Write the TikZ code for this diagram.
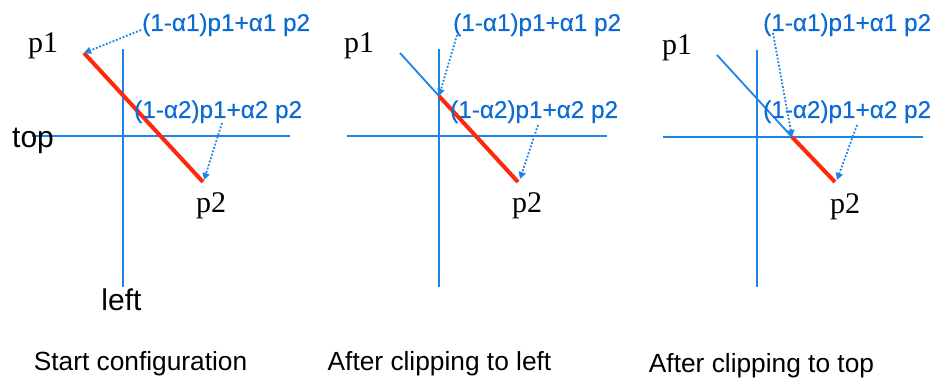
\documentclass[tikz,border=0pt]{standalone}
\usepackage{fontspec}
\setmainfont{Liberation Serif}
\setsansfont{Liberation Sans}
\newfontfamily\lblfont[FakeBold=0.3]{Liberation Sans}
\usetikzlibrary{arrows.meta}
\definecolor{axisblue}{RGB}{30,130,230}
\definecolor{labblue}{RGB}{12,108,212}
\definecolor{segred}{RGB}{255,40,10}
\begin{document}
\begin{tikzpicture}[x=1pt,y=-1pt,
  axis/.style={draw=axisblue,line width=2pt},
  seg/.style={draw=segred,line width=4pt},
  thinseg/.style={draw=axisblue,line width=1.8pt},
  ptr/.style={draw=axisblue,line width=1.8pt,dash pattern=on 1.8pt off 1.8pt,-{Triangle[length=7pt,width=7pt]}},
  ptlab/.style={font=\fontsize{30}{30}\selectfont\rmfamily,inner sep=0pt,anchor=base},
  alab/.style={font=\fontsize{24.3}{25}\lblfont,text=labblue,inner sep=0pt,anchor=base west},
  captext/.style={font=\fontsize{26.3}{28}\selectfont\sffamily,inner sep=0pt,anchor=base},
  axlab/.style={font=\fontsize{30}{30}\selectfont\sffamily,inner sep=0pt,anchor=base}]
\useasboundingbox (0,0) rectangle (936,379);

% ---------- Panel 1 ----------
\coordinate (a1) at (84,53);
\coordinate (b1) at (203,182);
\coordinate (v1t) at (123,49);
\coordinate (v1b) at (123,287);
\coordinate (h1l) at (32,136);
\coordinate (h1r) at (290,136);
\draw[axis] (v1t) -- (v1b);
\draw[axis] (h1l) -- (h1r);
\draw[seg] (a1) -- (b1);
\node[axlab,anchor=base west] (top) at (12,148) {top};
\node[axlab] (left) at (121.5,310) {left};
\node[ptlab] (p1a) at (43,53) {p1};
\node[ptlab] (p2a) at (211,213) {p2};
\node[alab] (l1a) at (142,31) {(1-α1)p1+α1 p2};
\node[alab] (l2a) at (134,118) {(1-α2)p1+α2 p2};
\coordinate (t1a) at (141,30);
\coordinate (t2a) at (222,123);
\coordinate (e2a) at (204,180);
\draw[ptr] (t1a) -- (a1);
\draw[ptr] (t2a) -- (e2a);
\node[captext] (capa) at (140.5,370) {Start configuration};

% ---------- Panel 2 ----------
\coordinate (a2) at (400,53);
\coordinate (c2) at (439,96);
\coordinate (b2) at (518,182);
\coordinate (v2t) at (439,49);
\coordinate (v2b) at (439,287);
\coordinate (h2l) at (347,136);
\coordinate (h2r) at (607,136);
\draw[axis] (v2t) -- (v2b);
\draw[axis] (h2l) -- (h2r);
\draw[thinseg] (a2) -- (c2);
\draw[seg] (c2) -- (b2);
\node[ptlab] (p1b) at (359,53) {p1};
\node[ptlab] (p2b) at (527,213) {p2};
\node[alab] (l1b) at (453,31) {(1-α1)p1+α1 p2};
\node[alab] (l2b) at (450,118) {(1-α2)p1+α2 p2};
\coordinate (t1b) at (457,35);
\coordinate (t2b) at (538,125);
\coordinate (e2b) at (520,179);
\draw[ptr] (t1b) -- (c2);
\draw[ptr] (t2b) -- (e2b);
\node[captext] (capb) at (439.5,370) {After clipping to left};

% ---------- Panel 3 ----------
\coordinate (a3) at (717,55);
\coordinate (c3) at (792,137);
\coordinate (b3) at (835,182);
\coordinate (v3t) at (757,50);
\coordinate (v3b) at (757,287);
\coordinate (h3l) at (663,137);
\coordinate (h3r) at (923,137);
\draw[axis] (v3t) -- (v3b);
\draw[axis] (h3l) -- (h3r);
\draw[thinseg] (a3) -- (c3);
\draw[seg] (c3) -- (b3);
\node[ptlab] (p1c) at (677,55) {p1};
\node[ptlab] (p2c) at (845,214) {p2};
\node[alab] (l1c) at (763,31) {(1-α1)p1+α1 p2};
\node[alab] (l2c) at (763,118) {(1-α2)p1+α2 p2};
\coordinate (t1c) at (773,33);
\coordinate (t2c) at (857,125);
\coordinate (e2c) at (837,180);
\draw[ptr] (t1c) -- (c3);
\draw[ptr] (t2c) -- (e2c);
\node[captext] (capc) at (761.5,372) {After clipping to top};
\end{tikzpicture}
\end{document}
